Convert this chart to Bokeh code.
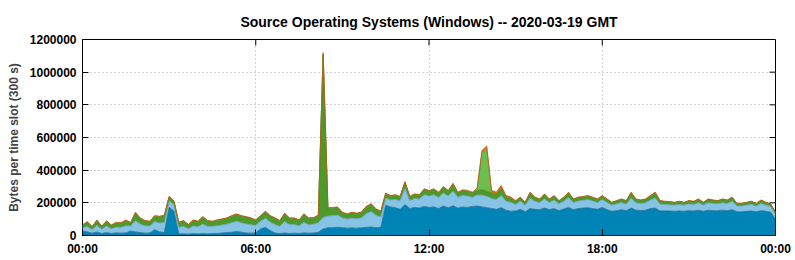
from bokeh.plotting import figure
from bokeh.models import ColumnDataSource, FixedTicker, NumeralTickFormatter
from bokeh.embed import file_html
from bokeh.resources import INLINE

# 10-minute slots from 00:00 to 24:00 (hours)
slot_hours = [i / 6 for i in range(145)]

# Layer thicknesses in thousands of bytes per slot
dark_blue_k = [
    28, 22, 14, 22, 12, 18, 12, 16, 14, 16,
    28, 22, 18, 14, 16, 35, 22, 18, 172, 150,
    10, 10, 8, 12, 10, 12, 10, 12, 12, 15,
    18, 20, 25, 20, 15, 14, 16, 40, 50, 30,
    15, 12, 15, 12, 14, 12, 16, 14, 15, 20,
    40, 48, 48, 50, 48, 45, 46, 45, 47, 50,
    52, 48, 50, 185, 175, 170, 160, 190, 165, 172,
    168, 178, 172, 175, 165, 180, 170, 182, 168, 175,
    172, 178, 180, 175, 170, 165, 160, 170, 155, 148,
    150, 160, 145, 165, 160, 158, 168, 158, 165, 152,
    162, 172, 158, 165, 168, 170, 165, 160, 172, 158,
    148, 152, 158, 152, 168, 155, 152, 155, 165, 168,
    150, 150, 150, 148, 150, 148, 152, 150, 155, 148,
    155, 152, 152, 155, 152, 158, 145, 145, 148, 150,
    145, 152, 148, 142, 100,
]
light_blue_k = [
    20, 33, 22, 40, 26, 40, 30, 35, 36, 44,
    30, 68, 52, 45, 42, 50, 55, 62, 40, 38,
    40, 45, 34, 46, 44, 58, 46, 44, 48, 50,
    52, 58, 62, 58, 56, 52, 46, 48, 55, 52,
    52, 45, 70, 55, 54, 48, 65, 52, 54, 58,
    70, 72, 74, 75, 60, 56, 60, 58, 62, 85,
    95, 75, 65, 45, 42, 50, 52, 100, 48, 55,
    55, 72, 70, 75, 68, 80, 72, 90, 66, 72,
    70, 56, 68, 72, 70, 62, 60, 75, 55, 55,
    40, 50, 40, 65, 48, 44, 56, 44, 52, 42,
    48, 60, 44, 46, 48, 50, 46, 42, 48, 44,
    38, 42, 44, 40, 62, 45, 44, 46, 52, 62,
    42, 40, 38, 38, 40, 38, 42, 40, 46, 38,
    46, 44, 42, 46, 44, 52, 36, 36, 38, 40,
    36, 44, 38, 36, 28,
]
dark_green_k = [
    14, 25, 16, 29, 17, 28, 20, 25, 25, 31,
    19, 47, 33, 29, 26, 32, 36, 40, 24, 20,
    28, 33, 23, 34, 30, 42, 32, 29, 32, 33,
    34, 39, 41, 40, 41, 38, 30, 30, 39, 36,
    37, 31, 47, 37, 36, 32, 47, 38, 37, 42,
    998, 45, 45, 45, 31, 28, 33, 30, 32, 40,
    43, 36, 31, 26, 24, 26, 24, 35, 23, 24,
    23, 31, 29, 31, 28, 35, 29, 43, 26, 28,
    29, 26, 26, 33, 30, 34, 33, 43, 25, 24,
    20, 21, 16, 31, 23, 19, 27, 19, 24, 17,
    21, 29, 19, 20, 19, 21, 20, 19, 21, 19,
    15, 17, 19, 19, 31, 21, 19, 20, 24, 31,
    19, 17, 17, 15, 17, 15, 17, 17, 20, 15,
    20, 19, 17, 20, 19, 21, 14, 14, 15, 17,
    14, 19, 15, 13, 12,
]
light_green_k = [0] * 82 + [10, 225, 260] + [0] * 60
orange_k = [
    3, 5, 3, 4, 3, 4, 3, 4, 3, 4,
    3, 6, 5, 4, 4, 5, 5, 5, 4, 4,
    4, 4, 3, 4, 4, 4, 4, 3, 4, 4,
    4, 5, 5, 4, 4, 4, 4, 4, 5, 4,
    4, 4, 5, 4, 4, 4, 5, 4, 4, 5,
    12, 5, 5, 5, 4, 4, 4, 4, 4, 5,
    5, 4, 4, 4, 4, 4, 4, 5, 4, 4,
    4, 5, 5, 5, 4, 5, 5, 5, 5, 5,
    5, 5, 6, 15, 18, 15, 12, 18, 10, 8,
    4, 4, 3, 4, 4, 3, 4, 3, 4, 3,
    4, 4, 3, 4, 4, 4, 4, 3, 4, 3,
    3, 3, 3, 3, 4, 3, 3, 3, 4, 4,
    3, 3, 3, 3, 3, 3, 3, 3, 3, 3,
    3, 3, 3, 3, 3, 4, 3, 3, 3, 3,
    3, 3, 3, 3, 3,
]

title_text = "Source Operating Systems (Windows) -- 2020-03-19 GMT"
x_ticks = [0, 6, 12, 18, 24]
x_tick_labels = ["00:00", "06:00", "12:00", "18:00", "00:00"]
y_ticks = [0, 200000, 400000, 600000, 800000, 1000000, 1200000]

X_MIN, X_MAX = 0, 24
Y_MIN, Y_MAX = 0, 1200000
FRAME_W, FRAME_H = 693, 196

layers = ["dark_blue", "light_blue", "dark_green", "light_green", "orange"]
fills = ["#0083b5", "#87c3e4", "#4d9a2b", "#70bd4f", "#e56a0e"]
edges = ["#1a6a92", "#6b9fbe", "#3f7f22", "#5a9e3c", "#c4580a"]

source = ColumnDataSource(dict(
    t=slot_hours,
    dark_blue=[v * 1000 for v in dark_blue_k],
    light_blue=[v * 1000 for v in light_blue_k],
    dark_green=[v * 1000 for v in dark_green_k],
    light_green=[v * 1000 for v in light_green_k],
    orange=[v * 1000 for v in orange_k],
))

FONT = "Liberation Sans"

p = figure(width=795, height=260, output_backend="svg", toolbar_location=None,
           x_range=(X_MIN, X_MAX), y_range=(Y_MIN, Y_MAX),
           min_border_left=82, min_border_right=20, min_border_top=39, min_border_bottom=25,
           title=title_text)
p.title.align = "center"
p.title.standoff = 20
p.title.text_font = FONT
p.title.text_font_size = "14px"
p.title.text_font_style = "bold"
p.title.text_color = "black"

p.varea_stack(stackers=layers, x="t", color=fills, source=source)
p.vline_stack(stackers=layers, x="t", color=edges, line_width=0.8, source=source)

# mirrored inward tick marks on the top and right edges of the frame (gnuplot style)
tick_len_x = (X_MAX - X_MIN) * 6 / FRAME_W
tick_len_y = (Y_MAX - Y_MIN) * 6 / FRAME_H
top_x = x_ticks[1:-1]
p.segment(x0=top_x, x1=top_x, y0=[Y_MAX] * len(top_x), y1=[Y_MAX - tick_len_y] * len(top_x),
          line_color="black", line_width=1)
right_y = y_ticks[1:-1]
p.segment(x0=[X_MAX] * len(right_y), x1=[X_MAX - tick_len_x] * len(right_y), y0=right_y, y1=right_y,
          line_color="black", line_width=1)

p.background_fill_color = "white"
p.border_fill_color = "white"
p.outline_line_color = "black"
p.outline_line_width = 1

p.xgrid.ticker = FixedTicker(ticks=[6, 12, 18])
p.ygrid.ticker = FixedTicker(ticks=y_ticks[1:-1])
for g in (p.xgrid, p.ygrid):
    g.grid_line_color = "#a8a8a8"
    g.grid_line_dash = "1 3"
    g.grid_line_width = 1

xa = p.xaxis[0]
xa.ticker = FixedTicker(ticks=x_ticks)
xa.major_label_overrides = {t: lab for t, lab in zip(x_ticks, x_tick_labels)}
ya = p.yaxis[0]
ya.ticker = FixedTicker(ticks=y_ticks)
ya.formatter = NumeralTickFormatter(format="0")
ya.axis_label = "Bytes per time slot (300 s)"
ya.axis_label_text_font = FONT
ya.axis_label_text_font_size = "12px"
ya.axis_label_text_font_style = "bold"
ya.axis_label_standoff = 6

for ax in (xa, ya):
    ax.major_tick_in = 6
    ax.major_tick_out = 0
    ax.minor_tick_in = 0
    ax.minor_tick_out = 0
    ax.axis_line_color = None
    ax.major_tick_line_color = "black"
    ax.major_label_text_font = FONT
    ax.major_label_text_font_size = "12px"
    ax.major_label_text_font_style = "bold"
    ax.major_label_text_color = "black"
    ax.major_label_standoff = 6

open("out.html", "w").write(file_html(p, INLINE))
